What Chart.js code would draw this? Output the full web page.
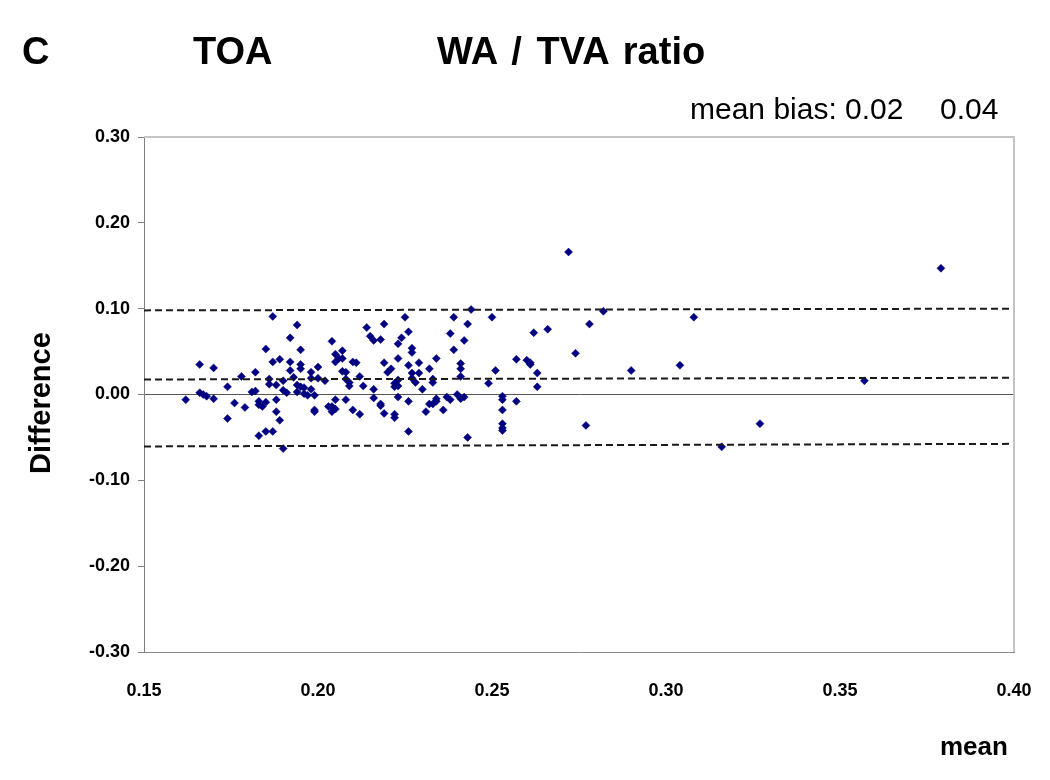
<!DOCTYPE html>
<html>
<head>
<meta charset="utf-8">
<script src="https://cdn.jsdelivr.net/npm/chart.js@4.4.1/dist/chart.umd.min.js"></script>
<style>
  html, body { margin: 0; padding: 0; background: #fff; }
  #wrap { position: relative; width: 1050px; height: 780px; font-family: "Liberation Sans", Arial, sans-serif; color: #000; }
  #wrap canvas { position: absolute; left: 0; top: 0; }
  .lbl { position: absolute; white-space: nowrap; }
  .big { font-size: 38px; line-height: 38px; font-weight: bold; top: 32px; }
  .bias { font-size: 30px; line-height: 30px; top: 94px; }
  .axt { font-size: 26px; line-height: 26px; font-weight: bold; }
</style>
</head>
<body>
<div id="wrap">
  <canvas id="baChart" width="1050" height="780"></canvas>
  <div class="lbl big" style="left:22px">C</div>
  <div class="lbl big" style="left:193px">TOA</div>
  <div class="lbl big" style="left:437px; word-spacing:4px">WA / TVA ratio</div>
  <div class="lbl bias" style="left:690px">mean bias: 0.02</div>
  <div class="lbl bias" style="left:940px">0.04</div>
  <div class="lbl axt" style="left:-30px; top:390px; width:140px; text-align:center; font-size:29px; line-height:28px; transform:rotate(-90deg)">Difference</div>
  <div class="lbl axt" style="left:940px; top:733px">mean</div>
</div>
<script>
// mean of the two measurements (x) and their difference (y)
var meanVals = [
  0.187, 0.194, 0.192, 0.185, 0.195, 0.166, 0.170, 0.187, 0.189, 0.192,
  0.195, 0.195, 0.192, 0.182, 0.178, 0.186, 0.198, 0.200, 0.193, 0.190,
  0.186, 0.188, 0.194, 0.198, 0.200, 0.202, 0.174, 0.190, 0.195, 0.196,
  0.198, 0.166, 0.167, 0.168, 0.170, 0.162, 0.181, 0.182, 0.191, 0.194,
  0.196, 0.197, 0.199, 0.176, 0.183, 0.185, 0.188, 0.183, 0.184, 0.179,
  0.203, 0.188, 0.199, 0.199, 0.174, 0.189, 0.185, 0.183, 0.187, 0.190,
  0.244, 0.225, 0.239, 0.250, 0.219, 0.214, 0.243, 0.226, 0.215, 0.238,
  0.224, 0.216, 0.218, 0.204, 0.242, 0.223, 0.227, 0.227, 0.207, 0.205,
  0.239, 0.206, 0.207, 0.205, 0.210, 0.211, 0.223, 0.226, 0.229, 0.234,
  0.219, 0.221, 0.220, 0.241, 0.241, 0.232, 0.207, 0.208, 0.229, 0.227,
  0.241, 0.251, 0.212, 0.223, 0.222, 0.223, 0.227, 0.228, 0.233, 0.233,
  0.208, 0.209, 0.209, 0.213, 0.249, 0.222, 0.216, 0.230, 0.240, 0.223,
  0.216, 0.205, 0.208, 0.237, 0.242, 0.241, 0.234, 0.234, 0.233, 0.238,
  0.226, 0.218, 0.218, 0.232, 0.204, 0.205, 0.204, 0.210, 0.212, 0.219,
  0.222, 0.222, 0.231, 0.236, 0.226, 0.243, 0.272, 0.282, 0.308, 0.278,
  0.266, 0.262, 0.274, 0.257, 0.260, 0.261, 0.261, 0.304, 0.290, 0.263,
  0.263, 0.253, 0.253, 0.257, 0.253, 0.253, 0.253, 0.253, 0.277, 0.316,
  0.327, 0.357, 0.379
];
var diffVals = [
  0.091, 0.081, 0.066, 0.053, 0.052, 0.035, 0.031, 0.038, 0.041, 0.038,
  0.035, 0.030, 0.028, 0.026, 0.021, 0.018, 0.026, 0.032, 0.020, 0.016,
  0.012, 0.011, 0.011, 0.019, 0.019, 0.016, 0.009, 0.005, 0.009, 0.008,
  0.006, 0.002, 0.000, -0.002, -0.005, -0.006, 0.003, 0.004, 0.002, 0.003,
  0.001, -0.001, -0.001, -0.010, -0.008, -0.009, -0.006, -0.012, -0.014, -0.015,
  -0.014, -0.020, -0.018, -0.020, -0.028, -0.030, -0.043, -0.048, -0.043, -0.063,
  0.099, 0.090, 0.090, 0.090, 0.082, 0.078, 0.082, 0.073, 0.068, 0.071,
  0.066, 0.063, 0.064, 0.062, 0.063, 0.059, 0.054, 0.049, 0.051, 0.047,
  0.052, 0.042, 0.042, 0.038, 0.038, 0.037, 0.042, 0.034, 0.037, 0.042,
  0.037, 0.030, 0.026, 0.036, 0.030, 0.030, 0.027, 0.026, 0.025, 0.025,
  0.021, 0.028, 0.021, 0.017, 0.013, 0.010, 0.019, 0.014, 0.018, 0.014,
  0.018, 0.014, 0.010, 0.010, 0.013, 0.009, 0.006, 0.006, 0.000, -0.003,
  -0.004, -0.006, -0.006, -0.003, -0.003, -0.005, -0.005, -0.008, -0.011, -0.006,
  -0.008, -0.011, -0.013, -0.011, -0.014, -0.017, -0.020, -0.018, -0.023, -0.022,
  -0.023, -0.027, -0.020, -0.018, -0.043, -0.050, 0.166, 0.097, 0.090, 0.082,
  0.076, 0.072, 0.048, 0.041, 0.040, 0.037, 0.035, 0.034, 0.028, 0.025,
  0.009, -0.002, -0.006, -0.008, -0.018, -0.034, -0.039, -0.042, -0.036, -0.061,
  -0.034, 0.016, 0.147
];

// mean bias and limits of agreement (dashed lines)
var lineX = [0.15, 0.40];
var upperLimit = [0.098, 0.100];
var biasLine = [0.0175, 0.0195];
var lowerLimit = [-0.0605, -0.0575];

var xTicks = [0.15, 0.20, 0.25, 0.30, 0.35, 0.40];
var yTicks = [-0.30, -0.20, -0.10, 0.00, 0.10, 0.20, 0.30];

function toPoints(xs, ys) {
  return xs.map(function (x, i) { return { x: x, y: ys[i] }; });
}

function dashed(ys) {
  return {
    data: toPoints(lineX, ys),
    showLine: true,
    borderColor: '#1a1a1a',
    borderWidth: 2,
    borderDash: [7, 4],
    pointRadius: 0,
    fill: false
  };
}

function fmt(v) {
  return Math.abs(v) < 1e-9 ? '0.00' : v.toFixed(2);
}

// light grey frame on the top and right of the plot area
var framePlugin = {
  id: 'frame',
  afterDraw: function (chart) {
    var a = chart.chartArea, c = chart.ctx;
    c.save();
    c.strokeStyle = '#c4c4c4';
    c.lineWidth = 2;
    c.beginPath();
    c.moveTo(a.left, a.top);
    c.lineTo(a.right, a.top);
    c.lineTo(a.right, a.bottom);
    c.stroke();
    c.restore();
  }
};

var tickFont = { family: '"Liberation Sans", Arial, sans-serif', size: 18, weight: 'bold' };

var ctx = document.getElementById('baChart').getContext('2d');
var baChart = new Chart(ctx, {
  type: 'scatter',
  data: {
    datasets: [
      dashed(upperLimit),
      dashed(biasLine),
      dashed(lowerLimit),
      {
        data: toPoints(meanVals, diffVals),
        pointStyle: 'rectRot',
        pointRadius: 4,
        pointBackgroundColor: '#000080',
        pointBorderColor: '#000080',
        pointBorderWidth: 0.5
      }
    ]
  },
  options: {
    responsive: false,
    animation: false,
    layout: { padding: { top: 137, right: 36, left: 0, bottom: 0 } },
    plugins: { legend: { display: false }, tooltip: { enabled: false } },
    scales: {
      x: {
        type: 'linear',
        min: 0.15,
        max: 0.40,
        afterBuildTicks: function (s) { s.ticks = xTicks.map(function (v) { return { value: v }; }); },
        afterFit: function (s) { s.height = 128; s.paddingLeft = 0; s.paddingRight = 0; },
        ticks: { font: tickFont, color: '#000', padding: 28, maxRotation: 0, callback: fmt },
        grid: { display: false, drawTicks: false },
        border: { display: true, color: '#8a8a8a', width: 1 }
      },
      y: {
        min: -0.30,
        max: 0.30,
        afterBuildTicks: function (s) { s.ticks = yTicks.map(function (v) { return { value: v }; }); },
        afterFit: function (s) { s.width = 144; s.paddingTop = 0; s.paddingBottom = 0; },
        ticks: { font: tickFont, color: '#000', padding: 8, callback: fmt },
        grid: {
          drawOnChartArea: true,
          tickLength: 6,
          tickColor: '#808080',
          lineWidth: 1,
          color: function (c) { return c.tick && Math.abs(c.tick.value) < 1e-9 ? '#555555' : 'rgba(0,0,0,0)'; }
        },
        border: { display: true, color: '#808080', width: 1 }
      }
    }
  },
  plugins: [framePlugin]
});
</script>
</body>
</html>
